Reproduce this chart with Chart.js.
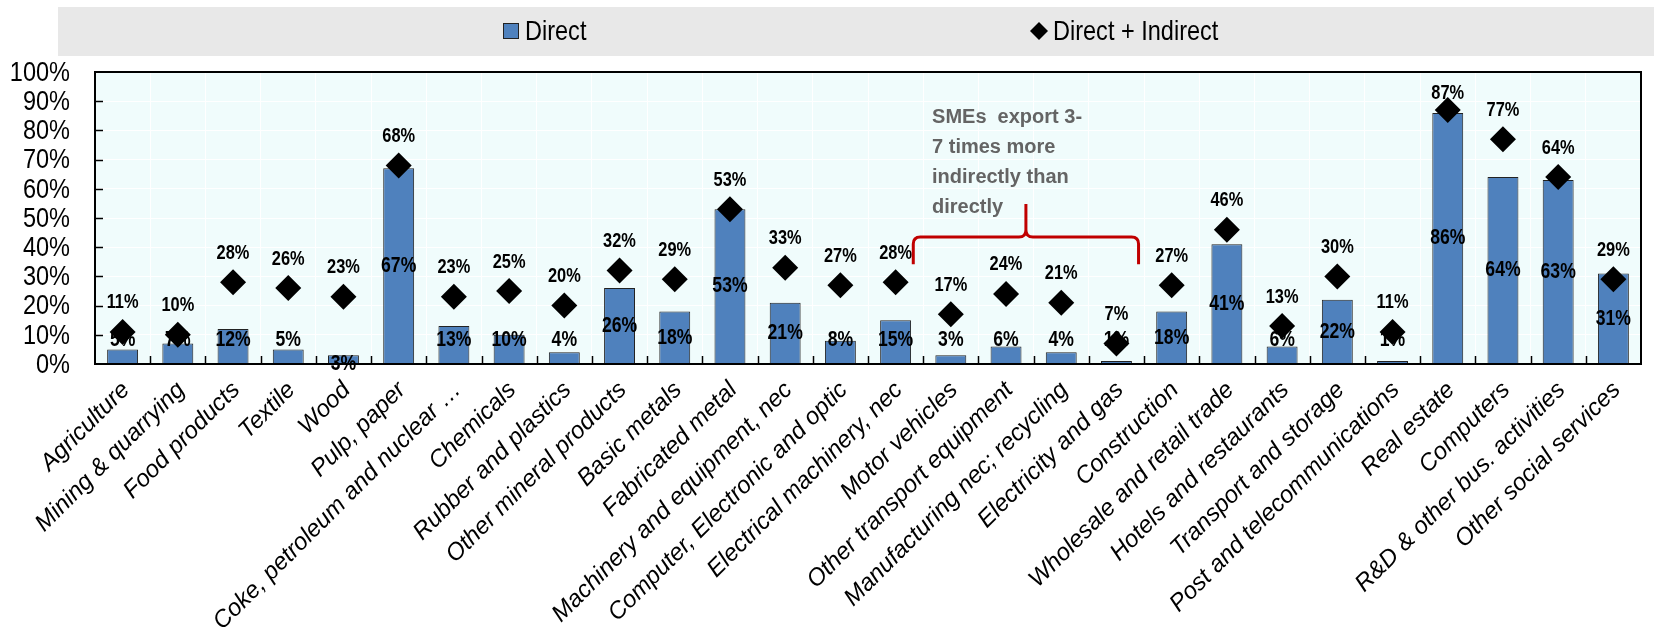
<!DOCTYPE html>
<html>
<head>
<meta charset="utf-8">
<script src="https://cdn.jsdelivr.net/npm/chart.js@4.4.0/dist/chart.umd.min.js"></script>
<style>
    html, body { margin: 0; padding: 0; background: #ffffff; }
    #wrap { width: 1654px; height: 628px; }
</style>
</head>
<body>
<div id="wrap"><canvas id="sme-chart" width="1654" height="628"></canvas></div>
<script>
// sectors along the x axis
const sectors = [
    'Agriculture', 'Mining & quarrying', 'Food products', 'Textile', 'Wood', 'Pulp, paper',
    'Coke, petroleum and nuclear …', 'Chemicals', 'Rubber and plastics', 'Other mineral products',
    'Basic metals', 'Fabricated metal', 'Machinery and equipment, nec', 'Computer, Electronic and optic',
    'Electrical machinery, nec', 'Motor vehicles', 'Other transport equipment', 'Manufacturing nec; recycling',
    'Electricity and gas', 'Construction', 'Wholesale and retail trade', 'Hotels and restaurants',
    'Transport and storage', 'Post and telecommunications', 'Real estate', 'Computers',
    'R&D & other bus. activities', 'Other social services'
];
// share of SME exports, %
const direct = [5, 7, 12, 5, 3, 67, 13, 10, 4, 26, 18, 53, 21, 8, 15, 3, 6, 4, 1, 18, 41, 6, 22, 1, 86, 64, 63, 31];
const directIndirect = [11, 10, 28, 26, 23, 68, 23, 25, 20, 32, 29, 53, 33, 27, 28, 17, 24, 21, 7, 27, 46, 13, 30, 11, 87, 77, 64, 29];
const seriesNames = ['Direct', 'Direct + Indirect'];
const yTicks = [0, 10, 20, 30, 40, 50, 60, 70, 80, 90, 100];
const noteLines = ['SMEs  export 3-', '7 times more', 'indirectly than', 'directly'];

const SANS = '"Liberation Sans", Arial, sans-serif';
const NARROW_X = 0.84;   // horizontal squeeze to get a narrow face out of Liberation Sans
const BAR_BLUE = '#4f81bd';
const NOTE_RED = '#c00000';

// the 3% label of this sector sits on the axis line
const labelOnAxis = ['Wood'];

function narrowText(ctx, text, x, y, squeeze) {
    ctx.save();
    ctx.translate(x, y);
    ctx.scale(squeeze, 1);
    ctx.fillText(text, 0, 0);
    ctx.restore();
}

const backdrop = {
    id: 'backdrop',
    beforeDraw(chart) {
        const ctx = chart.ctx;
        const a = chart.chartArea;
        ctx.save();
        ctx.fillStyle = '#ffffff';
        ctx.fillRect(0, 0, chart.width, chart.height);
        // legend band
        ctx.fillStyle = '#e8e8e8';
        ctx.fillRect(58, 7, chart.width - 58, 49);
        ctx.fillStyle = '#f0fcfc';
        ctx.fillRect(a.left, a.top, a.right - a.left, a.bottom - a.top);

        // legend
        ctx.font = '28px ' + SANS;
        ctx.textBaseline = 'middle';
        ctx.textAlign = 'left';
        ctx.fillStyle = BAR_BLUE;
        ctx.strokeStyle = '#222222';
        ctx.lineWidth = 1;
        ctx.fillRect(503, 23, 16, 16);
        ctx.strokeRect(503.5, 23.5, 15, 15);
        ctx.fillStyle = '#000000';
        narrowText(ctx, seriesNames[0], 525, 32, NARROW_X);
        ctx.beginPath();
        ctx.moveTo(1039, 22);
        ctx.lineTo(1048, 31);
        ctx.lineTo(1039, 40);
        ctx.lineTo(1030, 31);
        ctx.closePath();
        ctx.fill();
        narrowText(ctx, seriesNames[1], 1053, 32, NARROW_X);

        // y tick labels
        const y = chart.scales.y;
        ctx.textAlign = 'right';
        yTicks.forEach(v => narrowText(ctx, v + '%', 70, y.getPixelForValue(v) + 1, NARROW_X));

        // slanted sector names
        const x = chart.scales.x;
        ctx.font = 'italic 24px ' + SANS;
        ctx.textAlign = 'right';
        ctx.textBaseline = 'alphabetic';
        sectors.forEach((name, i) => {
            ctx.save();
            ctx.translate(x.getPixelForValue(i) + 8, a.bottom + 27);
            ctx.rotate(-Math.PI / 4);
            ctx.fillText(name, 0, 0);
            ctx.restore();
        });
        ctx.restore();
    },
    afterDatasetDraw(chart, args) {
        // value labels of the bars go under the diamonds
        if (args.index !== 1) {
            return;
        }
        const ctx = chart.ctx;
        ctx.save();
        ctx.font = 'bold 22px ' + SANS;
        ctx.fillStyle = '#000000';
        ctx.textAlign = 'center';
        ctx.textBaseline = 'middle';
        args.meta.data.forEach((bar, i) => {
            let ly = Math.min((bar.y + bar.base) / 2, bar.base - 24);
            if (labelOnAxis.includes(sectors[i])) {
                ly = bar.base;
            }
            narrowText(ctx, direct[i] + '%', bar.x, ly, 0.8);
        });
        ctx.restore();
    },
    afterDatasetsDraw(chart) {
        const ctx = chart.ctx;
        const a = chart.chartArea;
        const x = chart.scales.x;
        const y = chart.scales.y;
        ctx.save();

        // diamond labels, kept inside the frame
        ctx.font = 'bold 20px ' + SANS;
        ctx.fillStyle = '#000000';
        ctx.textAlign = 'center';
        ctx.textBaseline = 'middle';
        chart.getDatasetMeta(0).data.forEach((pt, i) => {
            const ly = Math.max(pt.y - 29, a.top + 21);
            narrowText(ctx, directIndirect[i] + '%', pt.x, ly, 0.82);
        });

        // frame and inward tick marks
        ctx.strokeStyle = '#000000';
        ctx.lineWidth = 2;
        ctx.strokeRect(a.left, a.top, a.right - a.left, a.bottom - a.top);
        ctx.lineWidth = 1.5;
        ctx.beginPath();
        yTicks.slice(1, -1).forEach(v => {
            const py = Math.round(y.getPixelForValue(v)) + 0.5;
            ctx.moveTo(a.left, py);
            ctx.lineTo(a.left + 8, py);
        });
        for (let i = 1; i < sectors.length; i++) {
            const px = Math.round(x.getPixelForValue(i - 0.5)) + 0.5;
            ctx.moveTo(px, a.bottom);
            ctx.lineTo(px, a.bottom - 8);
        }
        ctx.stroke();

        // note over the manufacturing sectors
        ctx.font = 'bold 20px ' + SANS;
        ctx.fillStyle = '#646464';
        ctx.textAlign = 'left';
        const tx = x.getPixelForValue(14.66);
        const ty = y.getPixelForValue(84.3);
        noteLines.forEach((line, k) => ctx.fillText(line, tx, ty + k * 30));

        // brace
        const xL = x.getPixelForValue(14.32);
        const xR = x.getPixelForValue(18.4);
        const xC = (xL + xR) / 2;
        const yH = y.getPixelForValue(43.5);
        const yE = y.getPixelForValue(34.2);
        const yT = y.getPixelForValue(54.8);
        const r = 7;
        ctx.strokeStyle = NOTE_RED;
        ctx.lineWidth = 3;
        ctx.beginPath();
        ctx.moveTo(xL, yE);
        ctx.lineTo(xL, yH + r);
        ctx.quadraticCurveTo(xL, yH, xL + r, yH);
        ctx.lineTo(xC - r, yH);
        ctx.quadraticCurveTo(xC, yH, xC, yH - r);
        ctx.lineTo(xC, yT);
        ctx.moveTo(xC, yH - r);
        ctx.quadraticCurveTo(xC, yH, xC + r, yH);
        ctx.lineTo(xR - r, yH);
        ctx.quadraticCurveTo(xR, yH, xR, yH + r);
        ctx.lineTo(xR, yE);
        ctx.stroke();
        ctx.restore();
    }
};

new Chart(document.querySelector('#sme-chart'), {
    type: 'bar',
    data: {
        labels: sectors,
        datasets: [
            {
                type: 'line',
                label: seriesNames[1],
                data: directIndirect,
                showLine: false,
                pointStyle: 'rectRot',
                pointRadius: 13,
                pointBackgroundColor: '#000000',
                pointBorderColor: '#000000',
                pointBorderWidth: 0,
                order: 0,
            },
            {
                label: seriesNames[0],
                data: direct,
                backgroundColor: BAR_BLUE,
                borderColor: '#222222',
                borderWidth: 1,
                barPercentage: 0.56,
                categoryPercentage: 1,
                order: 1,
            }
        ]
    },
    options: {
        responsive: false,
        animation: false,
        events: [],
        layout: {padding: {top: 72, right: 8, left: 0, bottom: 0}},
        plugins: {
            legend: {display: false},
            tooltip: {enabled: false},
        },
        scales: {
            x: {
                grid: {color: '#ffffff', lineWidth: 1, drawTicks: false, offset: true},
                border: {display: false},
                ticks: {display: false},
                afterFit(scale) {
                    scale.height = 264;
                },
            },
            y: {
                min: 0,
                max: 100,
                grid: {color: '#ffffff', lineWidth: 1, drawTicks: false},
                border: {display: false},
                ticks: {stepSize: 10, display: false},
                afterFit(scale) {
                    scale.width = 95;
                },
            }
        }
    },
    plugins: [backdrop]
});
</script>
</body>
</html>
